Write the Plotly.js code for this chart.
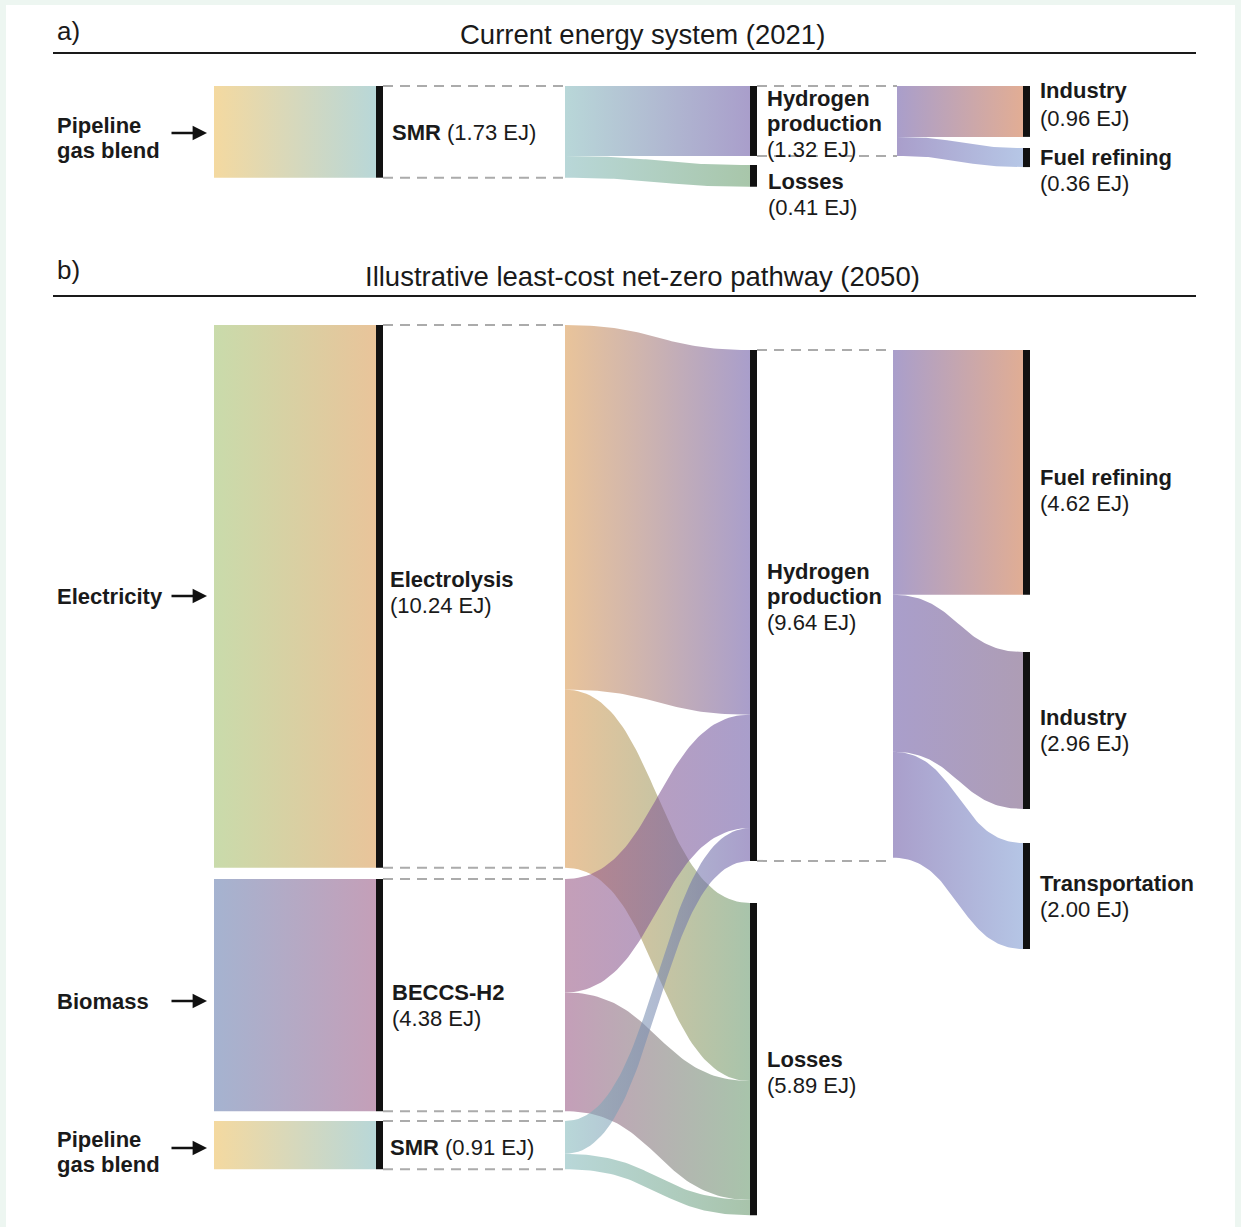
<!DOCTYPE html>
<html><head><meta charset="utf-8">
<script src="https://cdn.plot.ly/plotly-3.0.1.min.js"></script>
<style>html,body{margin:0;padding:0;background:#fff}</style>
</head><body>
<div id="chart" style="width:1241px;height:1227px"></div>
<script>
// ================= DATA =================
// Panel a) Current energy system (2021), values in EJ
const aNodes = ['Pipeline gas blend', 'SMR', 'Hydrogen production', 'Losses', 'Industry', 'Fuel refining'];
const aNodeValues = [1.73, 1.73, 1.32, 0.41, 0.96, 0.36];
const aLinkSource = ['Pipeline gas blend', 'SMR', 'SMR', 'Hydrogen production', 'Hydrogen production'];
const aLinkTarget = ['SMR', 'Hydrogen production', 'Losses', 'Industry', 'Fuel refining'];
const aLinkValues = [1.73, 1.32, 0.41, 0.96, 0.36];

// Panel b) Illustrative least-cost net-zero pathway (2050), values in EJ
const bNodes = ['Electricity', 'Biomass', 'Pipeline gas blend', 'Electrolysis', 'BECCS-H2', 'SMR',
                'Hydrogen production', 'Losses', 'Fuel refining', 'Industry', 'Transportation'];
const bNodeValues = [10.24, 4.38, 0.91, 10.24, 4.38, 0.91, 9.64, 5.89, 4.62, 2.96, 2.00];
const bLinkSource = ['Electricity', 'Biomass', 'Pipeline gas blend',
                     'Electrolysis', 'Electrolysis', 'BECCS-H2', 'BECCS-H2', 'SMR', 'SMR',
                     'Hydrogen production', 'Hydrogen production', 'Hydrogen production'];
const bLinkTarget = ['Electrolysis', 'BECCS-H2', 'SMR',
                     'Hydrogen production', 'Losses', 'Hydrogen production', 'Losses', 'Hydrogen production', 'Losses',
                     'Fuel refining', 'Industry', 'Transportation'];
const bLinkValues = [10.24, 4.38, 0.91, 6.88, 3.36, 2.14, 2.24, 0.62, 0.29, 4.62, 2.96, 2.00];

const panelTitles = ['Current energy system (2021)', 'Illustrative least-cost net-zero pathway (2050)'];
const panelLetters = ['a)', 'b)'];

// ================= LAYOUT / STYLE =================
const W = 1241, H = 1227;
const K = 53;                 // px per EJ on the vertical axis
const Y = px => px / K;       // pixel position -> axis units (EJ)
const ALPHA = 0.58;           // link transparency
const BAR_W = 7;
const FONT = 'Liberation Sans, Arial, Helvetica, sans-serif';
const INK = '#1a1a1a';

function intrinsic(hex) {
  const c = [1, 3, 5].map(i => parseInt(hex.slice(i, i + 2), 16));
  const f = v => Math.max(0, Math.min(255, Math.round((v - 255 * (1 - ALPHA)) / ALPHA)));
  return 'rgb(' + c.map(f).join(',') + ')';
}

const panelA = {
  nodes: aNodes, nodeValues: aNodeValues, src: aLinkSource, tgt: aLinkTarget, val: aLinkValues,
  geo: {linkStart: [214, 565, 897], barX: [null, 376, 750, 1023]},
  col: {'Pipeline gas blend': 0, 'SMR': 1, 'Hydrogen production': 2, 'Losses': 2, 'Industry': 3, 'Fuel refining': 3},
  top: {'Pipeline gas blend': 86, 'SMR': 86, 'Hydrogen production': 86, 'Losses': 165, 'Industry': 86, 'Fuel refining': 148},
  colors: {'Pipeline gas blend': '#f4d9a0', 'SMR': '#b8d7d8', 'Hydrogen production': '#a99ecb',
           'Losses': '#a8c6aa', 'Industry': '#e2ad94', 'Fuel refining': '#b6c7e6'},
  labels: {
    'Pipeline gas blend': {x: 55, y: 125, lines: ['Pipeline', 'gas blend'], value: false, arrowY: 133},
    'SMR': {x: 390, y: 132, inline: true},
    'Hydrogen production': {x: 765, y: 98, lines: ['Hydrogen', 'production']},
    'Losses': {x: 766, y: 181, lines: ['Losses']},
    'Industry': {x: 1038, y: 90, lines: ['Industry'], gap: 28},
    'Fuel refining': {x: 1038, y: 157, lines: ['Fuel refining']}
  },
  titleY: 34, letterY: 31, ruleY: 53
};

const panelB = {
  nodes: bNodes, nodeValues: bNodeValues, src: bLinkSource, tgt: bLinkTarget, val: bLinkValues,
  geo: {linkStart: [214, 565, 893], barX: [null, 376, 750, 1023]},
  col: {'Electricity': 0, 'Biomass': 0, 'Pipeline gas blend': 0, 'Electrolysis': 1, 'BECCS-H2': 1, 'SMR': 1,
        'Hydrogen production': 2, 'Losses': 2, 'Fuel refining': 3, 'Industry': 3, 'Transportation': 3},
  top: {'Electricity': 325, 'Biomass': 879, 'Pipeline gas blend': 1121, 'Electrolysis': 325, 'BECCS-H2': 879, 'SMR': 1121,
        'Hydrogen production': 350, 'Losses': 903, 'Fuel refining': 350, 'Industry': 652, 'Transportation': 843},
  colors: {'Electricity': '#c9dbab', 'Biomass': '#a5b3d0', 'Pipeline gas blend': '#f4d9a0',
           'Electrolysis': '#e9c49a', 'BECCS-H2': '#c49fb8', 'SMR': '#b8d7d8',
           'Hydrogen production': '#a99ecb', 'Losses': '#a8c4ab',
           'Fuel refining': '#e0ad94', 'Industry': '#ae9db5', 'Transportation': '#b5c5e5'},
  labels: {
    'Electricity': {x: 55, y: 596, lines: ['Electricity'], value: false, arrowY: 596},
    'Biomass': {x: 55, y: 1001, lines: ['Biomass'], value: false, arrowY: 1001},
    'Pipeline gas blend': {x: 55, y: 1139, lines: ['Pipeline', 'gas blend'], value: false, arrowY: 1148},
    'Electrolysis': {x: 388, y: 579, lines: ['Electrolysis']},
    'BECCS-H2': {x: 390, y: 992, lines: ['BECCS-H2']},
    'SMR': {x: 388, y: 1147, inline: true},
    'Hydrogen production': {x: 765, y: 571, lines: ['Hydrogen', 'production']},
    'Losses': {x: 765, y: 1059, lines: ['Losses']},
    'Fuel refining': {x: 1038, y: 477, lines: ['Fuel refining']},
    'Industry': {x: 1038, y: 717, lines: ['Industry']},
    'Transportation': {x: 1038, y: 883, lines: ['Transportation']}
  },
  titleY: 276, letterY: 270, ruleY: 296
};

// cubic-bezier band between (x0,y0) and (x1,y1) with thickness v (EJ)
function band(x0, x1, y0, y1, v) {
  const N = 60, xm = (x0 + x1) / 2;
  const xs = [], ys = [];
  const bx = t => (1 - t) ** 3 * x0 + 3 * (1 - t) ** 2 * t * xm + 3 * (1 - t) * t * t * xm + t ** 3 * x1;
  const by = (t, a, b) => (1 - t) ** 3 * a + 3 * (1 - t) ** 2 * t * a + 3 * (1 - t) * t * t * b + t ** 3 * b;
  for (let i = 0; i <= N; i++) { const t = i / N; xs.push(bx(t)); ys.push(by(t, y0, y1)); }
  for (let i = N; i >= 0; i--) { const t = i / N; xs.push(bx(t)); ys.push(by(t, y0 + v, y1 + v)); }
  xs.push(xs[0]); ys.push(ys[0]);
  return {x: xs, y: ys};
}

const traces = [], annotations = [], shapes = [];

function buildPanel(P) {
  const n = P.nodes.length;
  const idx = nm => P.nodes.indexOf(nm);
  const inSum = Array(n).fill(0), outSum = Array(n).fill(0);
  P.src.forEach((s, i) => { outSum[idx(s)] += P.val[i]; inSum[idx(P.tgt[i])] += P.val[i]; });
  const size = inSum.map((v, i) => Math.max(v, outSum[i]));
  const top = P.nodes.map(nm => Y(P.top[nm]));
  const outOff = Array(n).fill(0), inOff = Array(n).fill(0);

  const blocks = [], links = [];
  P.src.forEach((s, i) => {
    const t = P.tgt[i], si = idx(s), ti = idx(t), v = P.val[i];
    const y0 = top[si] + outOff[si]; outOff[si] += v;
    const y1 = top[ti] + inOff[ti]; inOff[ti] += v;
    const c = P.col[s];
    const x0 = P.geo.linkStart[c], x1 = P.geo.barX[c + 1];
    const pts = band(x0, x1, y0, y1, v);
    const isBlock = c === 0;
    const tr = {
      type: 'scatter', mode: 'lines', x: pts.x, y: pts.y, fill: 'toself',
      line: {width: 0, color: 'rgba(0,0,0,0)'}, hoverinfo: 'skip', showlegend: false,
      opacity: isBlock ? 1 : ALPHA,
      fillgradient: {type: 'horizontal', colorscale: [
        [0, isBlock ? P.colors[s] : intrinsic(P.colors[s])],
        [1, isBlock ? P.colors[t] : intrinsic(P.colors[t])]]}
    };
    (isBlock ? blocks : links).push(tr);
  });
  traces.push(...blocks, ...links);

  // dashed guides and black node bars
  P.nodes.forEach((nm, i) => {
    const c = P.col[nm];
    if (c === 0) return;
    const bx = P.geo.barX[c];
    if (outSum[i] > 0) {
      [top[i], top[i] + size[i]].forEach(yy => traces.push({
        type: 'scatter', mode: 'lines', x: [bx + BAR_W, P.geo.linkStart[c]], y: [yy, yy],
        line: {color: '#ababab', width: 2, dash: '10px,7px'}, hoverinfo: 'skip', showlegend: false
      }));
    }
    traces.push({
      type: 'scatter', mode: 'lines', x: [bx + BAR_W / 2, bx + BAR_W / 2], y: [top[i], top[i] + size[i]],
      line: {color: '#111111', width: BAR_W}, hoverinfo: 'skip', showlegend: false
    });
  });

  // labels
  P.nodes.forEach((nm, i) => {
    const L = P.labels[nm];
    if (!L) return;
    const valTxt = '(' + P.nodeValues[i].toFixed(2) + ' EJ)';
    const base = {xref: 'x', yref: 'y', xanchor: 'left', yanchor: 'middle', showarrow: false,
                  font: {family: FONT, size: 22, color: INK}};
    if (L.inline) {
      annotations.push(Object.assign({}, base, {x: L.x, y: Y(L.y), text: '<b>' + nm + '</b> ' + valTxt}));
    } else {
      L.lines.forEach((ln, k) => annotations.push(Object.assign({}, base,
        {x: L.x, y: Y(L.y + k * 25), text: '<b>' + ln + '</b>'})));
      if (L.value !== false) {
        annotations.push(Object.assign({}, base,
          {x: L.x, y: Y(L.y + L.lines.length * 25 + (L.gap ? L.gap - 25 : 1)), text: valTxt}));
      }
    }
    if (L.arrowY !== undefined) {
      annotations.push({xref: 'x', yref: 'y', axref: 'x', ayref: 'y', x: 207, y: Y(L.arrowY),
        ax: 170, ay: Y(L.arrowY), text: '', showarrow: true, arrowhead: 2, arrowsize: 1.2,
        arrowwidth: 2.4, arrowcolor: '#111111', standoff: 0});
    }
  });
}

[panelA, panelB].forEach((P, k) => {
  buildPanel(P);
  annotations.push({xref: 'x', yref: 'y', x: 642.5, y: Y(P.titleY), xanchor: 'center', yanchor: 'middle',
    showarrow: false, text: panelTitles[k], font: {family: FONT, size: 27.5, color: INK}});
  annotations.push({xref: 'x', yref: 'y', x: 55, y: Y(P.letterY), xanchor: 'left', yanchor: 'middle',
    showarrow: false, text: panelLetters[k], font: {family: FONT, size: 26, color: INK}});
  shapes.push({type: 'line', xref: 'x', yref: 'y', x0: 53, x1: 1196, y0: Y(P.ruleY), y1: Y(P.ruleY),
    line: {color: '#1a1a1a', width: 2}});
});

// white card on mint background
shapes.unshift({type: 'rect', xref: 'paper', yref: 'paper', x0: 6 / W, x1: 1 - 6 / W, y0: -0.01, y1: 1 - 5 / H,
  line: {width: 0}, fillcolor: '#ffffff', layer: 'below'});

const layout = {
  width: W, height: H, autosize: false,
  margin: {l: 0, r: 0, t: 0, b: 0, pad: 0},
  paper_bgcolor: '#edf6f1', plot_bgcolor: 'rgba(0,0,0,0)',
  xaxis: {range: [0, W], visible: false, fixedrange: true},
  yaxis: {range: [H / K, 0], visible: false, fixedrange: true},
  showlegend: false, hovermode: false,
  annotations: annotations, shapes: shapes
};

Plotly.newPlot('chart', traces, layout, {staticPlot: true, displayModeBar: false});
</script>
</body></html>
